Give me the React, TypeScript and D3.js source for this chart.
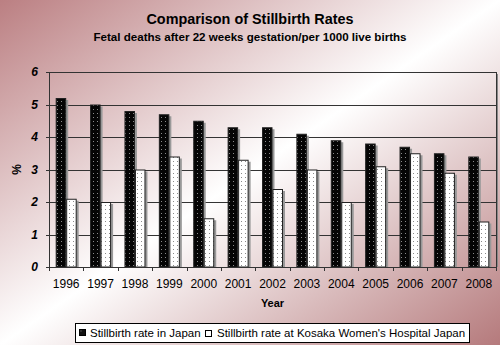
import React from "react";
import * as d3 from "d3";

const years = ["1996","1997","1998","1999","2000","2001","2002","2003","2004","2005","2006","2007","2008"];
const japan = [5.2, 5.0, 4.8, 4.7, 4.5, 4.3, 4.3, 4.1, 3.9, 3.8, 3.7, 3.5, 3.4];
const kosaka = [2.1, 2.0, 3.0, 3.4, 1.5, 3.3, 2.4, 3.0, 2.0, 3.1, 3.5, 2.9, 1.4];
const yTicks = [0, 1, 2, 3, 4, 5, 6];
const seriesNames = ["Stillbirth rate in Japan", "Stillbirth rate at Kosaka Women's Hospital Japan"];

const W = 500, H = 345;
const plot = { left: 49, right: 496, top: 72, bottom: 267 };
const FONT = "'Liberation Sans', Arial, sans-serif";

export default function App() {
  const x0 = d3.scaleBand<string>().domain(years).range([plot.left, plot.right]).paddingInner(0).paddingOuter(0);
  const bw = x0.bandwidth();
  const pad = (bw - 21) / 2;
  const x1 = d3.scaleBand<string>().domain(["a", "b"]).range([pad, bw - pad]);
  const y = d3.scaleLinear().domain([0, 6]).range([plot.bottom, plot.top]);

  const series = [
    { key: "a", values: japan, fill: "url(#patBlack)" },
    { key: "b", values: kosaka, fill: "url(#patWhite)" },
  ];

  return (
    <svg width={W} height={H} style={{ position: "absolute", left: 0, top: 0, display: "block" }}>
      <defs>
        <linearGradient id="bg" x1="0" y1="0" x2="1" y2="1">
          <stop offset="0" stopColor="#bb7f82" />
          <stop offset="0.5" stopColor="#ffffff" />
          <stop offset="1" stopColor="#b57a7c" />
        </linearGradient>
        <pattern id="patBlack" width="4" height="4" patternUnits="userSpaceOnUse">
          <rect width="4" height="4" fill="#050505" />
          <rect x="1" y="1" width="1" height="1" fill="#8a8a8a" />
        </pattern>
        <pattern id="patWhite" width="4" height="4" patternUnits="userSpaceOnUse">
          <rect width="4" height="4" fill="#ffffff" />
          <rect x="1" y="1" width="1" height="1" fill="#8a8a8a" />
        </pattern>
        <clipPath id="plotClip">
          <rect x={plot.left} y={0} width={plot.right - plot.left + 4} height={plot.bottom} />
        </clipPath>
      </defs>
      <rect x={0} y={0} width={W} height={H} fill="url(#bg)" />

      <text x={250} y={24} textAnchor="middle" fontFamily={FONT} fontWeight="bold" fontSize={14.4} fill="#000">
        Comparison of Stillbirth Rates
      </text>
      <text x={250} y={41} textAnchor="middle" fontFamily={FONT} fontWeight="bold" fontSize={11.6} fill="#000">
        Fetal deaths after 22 weeks gestation/per 1000 live births
      </text>

      {/* plot shadow on right */}
      <rect x={plot.right} y={plot.top + 2} width={2} height={plot.bottom - plot.top - 2} fill="#888" />

      {/* gridlines */}
      {yTicks.filter(t => t > 0).map(t => (
        <line key={t} x1={plot.left} x2={plot.right} y1={Math.round(y(t)) + 0.5} y2={Math.round(y(t)) + 0.5} stroke="#333" strokeWidth={1} />
      ))}
      <line x1={plot.right + 0.5} x2={plot.right + 0.5} y1={plot.top} y2={plot.bottom} stroke="#333" />

      {/* bars */}
      <g clipPath="url(#plotClip)">
        {series.map(s => years.map((yr, i) => {
          const bx = x0(yr)! + x1(s.key)!;
          const by = y(s.values[i]);
          return (
            <rect key={s.key + yr + "sh"} x={bx + 2} y={by + 2} width={x1.bandwidth()} height={plot.bottom - by} fill="#999" />
          );
        }))}
        {series.map(s => years.map((yr, i) => {
          const bx = x0(yr)! + x1(s.key)!;
          const by = y(s.values[i]);
          return (
            <rect key={s.key + yr} x={bx + 0.5} y={by + 0.5} width={x1.bandwidth() - 1} height={plot.bottom - by - 0.5} fill={s.fill} stroke="#222" strokeWidth={1} />
          );
        }))}
      </g>

      {/* axes */}
      <line x1={plot.left + 0.5} x2={plot.left + 0.5} y1={plot.top} y2={plot.bottom} stroke="#333" />
      <line x1={plot.left} x2={plot.right + 1} y1={plot.bottom + 0.5} y2={plot.bottom + 0.5} stroke="#333" />
      {yTicks.map(t => (
        <g key={t}>
          <line x1={plot.left - 3} x2={plot.left} y1={Math.round(y(t)) + 0.5} y2={Math.round(y(t)) + 0.5} stroke="#333" />
          <text x={38} y={y(t) + 4} textAnchor="end" fontFamily={FONT} fontWeight="bold" fontStyle="italic" fontSize={12} fill="#000">{t}</text>
        </g>
      ))}
      {years.map((yr, i) => (
        <line key={"tk" + yr} x1={Math.round(x0(yr)!) + 0.5} x2={Math.round(x0(yr)!) + 0.5} y1={plot.bottom} y2={plot.bottom + 4} stroke="#333" />
      ))}
      <line x1={plot.right + 0.5} x2={plot.right + 0.5} y1={plot.bottom} y2={plot.bottom + 4} stroke="#333" />
      {years.map(yr => (
        <text key={"lb" + yr} x={x0(yr)! + bw / 2} y={288} textAnchor="middle" fontFamily={FONT} fontSize={12} fill="#000">{yr}</text>
      ))}
      <text x={(plot.left + plot.right) / 2} y={307} textAnchor="middle" fontFamily={FONT} fontWeight="bold" fontSize={11} fill="#000">Year</text>
      <text transform={`translate(21,${(plot.top + plot.bottom) / 2}) rotate(-90)`} textAnchor="middle" fontFamily={FONT} fontWeight="bold" fontSize={12} fill="#000">%</text>

      {/* legend */}
      <rect x={75.5} y={323.5} width={394} height={19} fill="#fff" stroke="#000" />
      <rect x={79.5} y={329.5} width={6} height={6} fill="#111" stroke="#000" />
      <rect x={80.5} y={330.5} width={1} height={1} fill="#888" />
      <text x={90} y={337} fontFamily={FONT} fontSize={11.5} fill="#000">{seriesNames[0]}</text>
      <rect x={205.5} y={330.5} width={6} height={6} fill="#fff" stroke="#000" />
      <text x={217} y={337} fontFamily={FONT} fontSize={11.5} fill="#000">{seriesNames[1]}</text>
    </svg>
  );
}
